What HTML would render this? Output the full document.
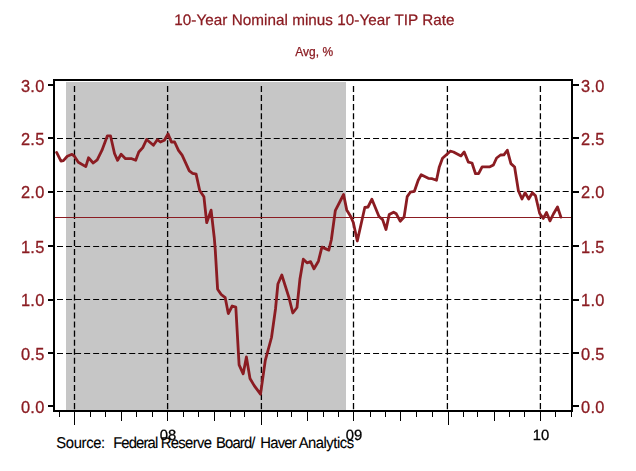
<!DOCTYPE html>
<html><head><meta charset="utf-8"><title>10-Year Nominal minus 10-Year TIP Rate</title>
<style>
html,body{margin:0;padding:0;background:#fff;}
body{width:636px;height:471px;overflow:hidden;font-family:"Liberation Sans",sans-serif;}
svg{display:block;position:absolute;left:0;top:0;}

text{font-family:"Liberation Sans",sans-serif;}
#main{will-change:transform;}
</style></head><body>
<svg id="src" width="636" height="471" viewBox="0 0 636 471">
<text transform="translate(0 447.6) scale(1 1.055)" x="56.3" y="0" font-size="14.8" letter-spacing="-0.349" fill="#000" stroke="#000" stroke-width="0.12" style="text-rendering:geometricPrecision">Source:</text>
<text transform="translate(0 447.6) scale(1 1.055)" x="113.13" y="0" font-size="14.8" letter-spacing="-0.839" fill="#000" stroke="#000" stroke-width="0.12" style="text-rendering:geometricPrecision">Federal</text>
<text transform="translate(0 447.6) scale(1 1.055)" x="160.73" y="0" font-size="14.8" letter-spacing="-0.641" fill="#000" stroke="#000" stroke-width="0.12" style="text-rendering:geometricPrecision">Reserve</text>
<text transform="translate(0 447.6) scale(1 1.055)" x="216.03" y="0" font-size="14.8" letter-spacing="-0.836" fill="#000" stroke="#000" stroke-width="0.12" style="text-rendering:geometricPrecision">Board/</text>
<text transform="translate(0 447.6) scale(1 1.055)" x="260.33" y="0" font-size="14.8" letter-spacing="-0.764" fill="#000" stroke="#000" stroke-width="0.12" style="text-rendering:geometricPrecision">Haver</text>
<text transform="translate(0 447.6) scale(1 1.055)" x="298.67" y="0" font-size="14.8" letter-spacing="-0.477" fill="#000" stroke="#000" stroke-width="0.12" style="text-rendering:geometricPrecision">Analytics</text>
</svg>
<svg id="main" width="636" height="471" viewBox="0 0 636 471">
<rect x="66" y="82" width="280" height="328" fill="#c6c6c6"/>
<line x1="57" y1="138.5" x2="571" y2="138.5" stroke="#000" stroke-width="1.2" stroke-dasharray="6.02 3.01"/>
<line x1="57" y1="191.5" x2="571" y2="191.5" stroke="#000" stroke-width="1.2" stroke-dasharray="6.02 3.01"/>
<line x1="57" y1="246.5" x2="571" y2="246.5" stroke="#000" stroke-width="1.2" stroke-dasharray="6.02 3.01"/>
<line x1="57" y1="299.5" x2="571" y2="299.5" stroke="#000" stroke-width="1.2" stroke-dasharray="6.02 3.01"/>
<line x1="57" y1="353.5" x2="571" y2="353.5" stroke="#000" stroke-width="1.2" stroke-dasharray="6.02 3.01"/>
<line x1="74.5" y1="86" x2="74.5" y2="409.2" stroke="#000" stroke-width="1.3" stroke-dasharray="6.04 3.02"/>
<line x1="167.6" y1="86" x2="167.6" y2="409.2" stroke="#000" stroke-width="1.3" stroke-dasharray="6.04 3.02"/>
<line x1="261.4" y1="86" x2="261.4" y2="409.2" stroke="#000" stroke-width="1.3" stroke-dasharray="6.04 3.02"/>
<line x1="353.5" y1="86" x2="353.5" y2="409.2" stroke="#000" stroke-width="1.3" stroke-dasharray="6.04 3.02"/>
<line x1="447.4" y1="86" x2="447.4" y2="409.2" stroke="#000" stroke-width="1.3" stroke-dasharray="6.04 3.02"/>
<line x1="540.4" y1="86" x2="540.4" y2="409.2" stroke="#000" stroke-width="1.3" stroke-dasharray="6.04 3.02"/>
<line x1="55" y1="217.5" x2="571" y2="217.5" stroke="#8b1c22" stroke-width="1"/>
<path d="M56.6,152.4 L61.0,161.1 L63.4,160.6 L67.3,156.2 L72.0,154.3 L74.4,156.2 L78.3,162.2 L85.8,166.6 L88.5,157.8 L93.2,163.0 L97.2,159.8 L101.9,150.4 L107.4,135.8 L110.5,135.8 L114.5,153.5 L117.6,160.3 L121.1,154.3 L125.5,158.7 L131.8,158.7 L135.7,160.3 L138.8,152.0 L142.8,147.6 L146.6,139.5 L153.4,145.3 L157.3,139.7 L160.4,142.0 L164.4,140.2 L168.0,133.9 L171.4,142.0 L174.6,142.0 L178.5,150.4 L182.1,155.1 L189.3,170.9 L192.6,173.3 L196.1,174.1 L199.7,190.5 L203.9,196.7 L206.7,222.7 L211.1,210.1 L214.3,238.0 L215.3,250.7 L217.6,289.2 L221.2,294.5 L225.2,297.7 L228.3,313.6 L232.2,306.0 L235.8,307.0 L239.1,364.8 L243.2,373.8 L246.4,357.0 L250.0,378.5 L254.2,385.6 L260.5,394.2 L265.3,360.4 L271.5,337.5 L275.5,309.0 L277.9,284.0 L281.8,275.0 L288.9,297.4 L292.8,313.0 L297.0,307.5 L299.9,279.3 L303.3,259.2 L307.0,262.8 L310.6,261.7 L314.0,268.8 L318.4,261.2 L321.9,247.1 L328.8,250.1 L331.3,240.0 L335.3,210.7 L343.6,194.5 L346.7,209.9 L350.7,216.5 L353.3,222.5 L357.3,241.0 L364.8,207.5 L368.0,207.0 L371.9,199.2 L379.0,216.5 L382.6,219.6 L386.0,229.5 L389.2,214.6 L393.6,212.2 L396.3,213.8 L400.2,221.2 L404.1,217.0 L407.2,196.6 L410.3,192.2 L414.4,191.3 L418.2,180.2 L421.2,174.8 L428.3,178.3 L432.2,178.7 L436.5,180.3 L439.3,166.9 L442.5,158.3 L450.3,151.2 L453.5,152.0 L461.0,155.9 L464.2,152.0 L468.4,162.2 L472.0,163.0 L475.5,173.7 L478.6,173.7 L482.1,166.9 L489.9,166.8 L493.4,165.0 L496.6,158.0 L500.5,155.0 L503.9,154.9 L507.3,150.2 L510.9,163.6 L514.6,167.0 L518.4,190.8 L522.0,199.0 L525.1,192.7 L528.7,199.0 L532.4,192.7 L535.5,195.8 L539.7,213.5 L543.3,218.4 L546.5,212.5 L550.0,220.9 L553.4,214.0 L557.5,207.0 L560.9,217.1" fill="none" stroke="#8b1c22" stroke-width="2.8" stroke-linejoin="round" stroke-linecap="round"/>
<rect x="54" y="80" width="518" height="331" fill="none" stroke="#000" stroke-width="2"/>
<rect x="48" y="84" width="6" height="2" fill="#000"/>
<rect x="573" y="84" width="6" height="2" fill="#000"/>
<text x="44.6" y="91.9" text-anchor="end" font-size="16.4" letter-spacing="0.3" stroke="#8b1c22" stroke-width="0.3" fill="#8b1c22">3.0</text>
<text x="581.1" y="91.9" text-anchor="start" font-size="16.4" letter-spacing="0.3" stroke="#8b1c22" stroke-width="0.3" fill="#8b1c22">3.0</text>
<rect x="48" y="137" width="6" height="2" fill="#000"/>
<rect x="573" y="137" width="6" height="2" fill="#000"/>
<text x="44.6" y="144.9" text-anchor="end" font-size="16.4" letter-spacing="0.3" stroke="#8b1c22" stroke-width="0.3" fill="#8b1c22">2.5</text>
<text x="581.1" y="144.9" text-anchor="start" font-size="16.4" letter-spacing="0.3" stroke="#8b1c22" stroke-width="0.3" fill="#8b1c22">2.5</text>
<rect x="48" y="191" width="6" height="2" fill="#000"/>
<rect x="573" y="191" width="6" height="2" fill="#000"/>
<text x="44.6" y="198.0" text-anchor="end" font-size="16.4" letter-spacing="0.3" stroke="#8b1c22" stroke-width="0.3" fill="#8b1c22">2.0</text>
<text x="581.1" y="198.0" text-anchor="start" font-size="16.4" letter-spacing="0.3" stroke="#8b1c22" stroke-width="0.3" fill="#8b1c22">2.0</text>
<rect x="48" y="245" width="6" height="2" fill="#000"/>
<rect x="573" y="245" width="6" height="2" fill="#000"/>
<text x="44.6" y="252.9" text-anchor="end" font-size="16.4" letter-spacing="0.3" stroke="#8b1c22" stroke-width="0.3" fill="#8b1c22">1.5</text>
<text x="581.1" y="252.9" text-anchor="start" font-size="16.4" letter-spacing="0.3" stroke="#8b1c22" stroke-width="0.3" fill="#8b1c22">1.5</text>
<rect x="48" y="299" width="6" height="2" fill="#000"/>
<rect x="573" y="299" width="6" height="2" fill="#000"/>
<text x="44.6" y="305.9" text-anchor="end" font-size="16.4" letter-spacing="0.3" stroke="#8b1c22" stroke-width="0.3" fill="#8b1c22">1.0</text>
<text x="581.1" y="305.9" text-anchor="start" font-size="16.4" letter-spacing="0.3" stroke="#8b1c22" stroke-width="0.3" fill="#8b1c22">1.0</text>
<rect x="48" y="352" width="6" height="2" fill="#000"/>
<rect x="573" y="352" width="6" height="2" fill="#000"/>
<text x="44.6" y="359.9" text-anchor="end" font-size="16.4" letter-spacing="0.3" stroke="#8b1c22" stroke-width="0.3" fill="#8b1c22">0.5</text>
<text x="581.1" y="359.9" text-anchor="start" font-size="16.4" letter-spacing="0.3" stroke="#8b1c22" stroke-width="0.3" fill="#8b1c22">0.5</text>
<rect x="48" y="405" width="6" height="2" fill="#000"/>
<rect x="573" y="405" width="6" height="2" fill="#000"/>
<text x="44.6" y="412.9" text-anchor="end" font-size="16.4" letter-spacing="0.3" stroke="#8b1c22" stroke-width="0.3" fill="#8b1c22">0.0</text>
<text x="581.1" y="412.9" text-anchor="start" font-size="16.4" letter-spacing="0.3" stroke="#8b1c22" stroke-width="0.3" fill="#8b1c22">0.0</text>
<rect x="59" y="412" width="1" height="5" fill="#000"/>
<rect x="74" y="412" width="1" height="13" fill="#000"/>
<rect x="90" y="412" width="1" height="5" fill="#000"/>
<rect x="105" y="412" width="1" height="5" fill="#000"/>
<rect x="121" y="412" width="1" height="9" fill="#000"/>
<rect x="136" y="412" width="1" height="5" fill="#000"/>
<rect x="152" y="412" width="1" height="5" fill="#000"/>
<rect x="167" y="412" width="1" height="9" fill="#000"/>
<rect x="183" y="412" width="1" height="5" fill="#000"/>
<rect x="198" y="412" width="1" height="5" fill="#000"/>
<rect x="214" y="412" width="1" height="9" fill="#000"/>
<rect x="230" y="412" width="1" height="5" fill="#000"/>
<rect x="244" y="412" width="1" height="5" fill="#000"/>
<rect x="261" y="412" width="1" height="13" fill="#000"/>
<rect x="277" y="412" width="1" height="5" fill="#000"/>
<rect x="291" y="412" width="1" height="5" fill="#000"/>
<rect x="307" y="412" width="1" height="9" fill="#000"/>
<rect x="323" y="412" width="1" height="5" fill="#000"/>
<rect x="338" y="412" width="1" height="5" fill="#000"/>
<rect x="353" y="412" width="1" height="9" fill="#000"/>
<rect x="370" y="412" width="1" height="5" fill="#000"/>
<rect x="385" y="412" width="1" height="5" fill="#000"/>
<rect x="400" y="412" width="1" height="9" fill="#000"/>
<rect x="416" y="412" width="1" height="5" fill="#000"/>
<rect x="432" y="412" width="1" height="5" fill="#000"/>
<rect x="448" y="412" width="1" height="13" fill="#000"/>
<rect x="463" y="412" width="1" height="5" fill="#000"/>
<rect x="477" y="412" width="1" height="5" fill="#000"/>
<rect x="494" y="412" width="1" height="9" fill="#000"/>
<rect x="509" y="412" width="1" height="5" fill="#000"/>
<rect x="524" y="412" width="1" height="5" fill="#000"/>
<rect x="540" y="412" width="1" height="9" fill="#000"/>
<rect x="555" y="412" width="1" height="5" fill="#000"/>
<rect x="571" y="412" width="1" height="5" fill="#000"/>
<text x="168.0" y="440.3" text-anchor="middle" font-size="14.8" fill="#000" stroke="#000" stroke-width="0.3" style="text-rendering:geometricPrecision">08</text>
<text x="353.90000000000003" y="440.3" text-anchor="middle" font-size="14.8" fill="#000" stroke="#000" stroke-width="0.3" style="text-rendering:geometricPrecision">09</text>
<text x="540.9" y="440.3" text-anchor="middle" font-size="14.8" fill="#000" stroke="#000" stroke-width="0.3" style="text-rendering:geometricPrecision">10</text>
<text x="174.3" y="24.75" font-size="15.25" fill="#8b1c22" stroke="#8b1c22" stroke-width="0.25" textLength="280.3" lengthAdjust="spacing" style="text-rendering:geometricPrecision">10-Year Nominal minus 10-Year TIP Rate</text>
<text x="314.2" y="56.1" text-anchor="middle" font-size="12" fill="#8b1c22" stroke="#8b1c22" stroke-width="0.25">Avg, %</text>
</svg>
</body></html>
